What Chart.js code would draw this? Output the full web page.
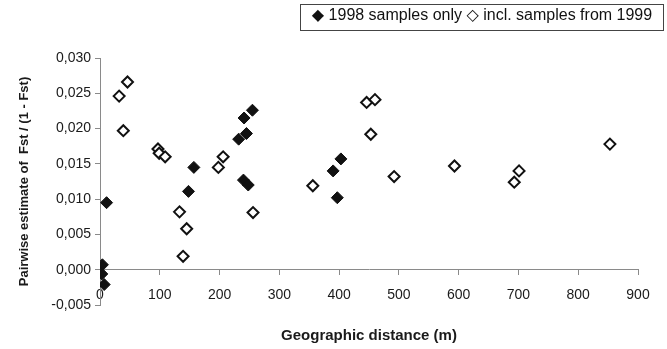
<!DOCTYPE html>
<html>
<head>
<meta charset="utf-8">
<script src="https://cdn.jsdelivr.net/npm/chart.js@4.4.1/dist/chart.umd.min.js"></script>
<style>
  body { margin: 0; background: #fff; }
  #wrap { position: relative; width: 667px; height: 349px; }
  #legend {
    position: absolute; left: 300px; top: 4px; width: 362px; height: 25px;
    border: 1px solid #444; color: #111; line-height: 25px; text-align: center;
    font: 16px "Liberation Sans", Arial, "DejaVu Sans", sans-serif; white-space: nowrap;
  }
</style>
</head>
<body>
<div id="wrap">
  <canvas id="chart" width="667" height="349"></canvas>
  <div id="legend">◆ 1998 samples only ◇ incl. samples from 1999</div>
</div>
<script>
// distances (m) and Fst/(1-Fst) estimates
const dist1998 = [4, 3, 7, 11, 148, 157, 232, 241, 245, 255, 240, 248, 390, 397, 403];
const fst1998  = [0.0007, -0.0006, -0.0021, 0.0095, 0.0111, 0.0145, 0.0185, 0.0215, 0.0193, 0.0226, 0.0127, 0.0120, 0.0140, 0.0102, 0.0157];

const dist1999 = [32, 46, 39, 97, 99, 109, 133, 139, 145, 198, 206, 256, 356, 446, 460, 453, 492, 593, 693, 701, 853];
const fst1999  = [0.0246, 0.0266, 0.0197, 0.0171, 0.0165, 0.0160, 0.0082, 0.0019, 0.0058, 0.0145, 0.0160, 0.0081, 0.0119, 0.0237, 0.0241, 0.0192, 0.0132, 0.0147, 0.0124, 0.0140, 0.0178];

const seriesNames = ['1998 samples only', 'incl. samples from 1999'];
const xTitle = 'Geographic distance (m)';
const yTitle = 'Pairwise estimate of  Fst / (1 - Fst)';
const xMin = 0, xMax = 900, xStep = 100;
const yMin = -0.005, yMax = 0.030, yStep = 0.005;

function toPoints(xs, ys) {
  return xs.map((x, i) => ({ x: x, y: ys[i] }));
}

const axisGrey = '#8a8a8a';
const textColor = '#1a1a1a';
const font = '"Liberation Sans", Arial, sans-serif';

new Chart(document.getElementById('chart'), {
  type: 'scatter',
  data: {
    datasets: [
      {
        label: seriesNames[0],
        data: toPoints(dist1998, fst1998),
        pointStyle: 'rectRot',
        pointRadius: 6,
        backgroundColor: '#111',
        borderColor: '#111',
        borderWidth: 1
      },
      {
        label: seriesNames[1],
        data: toPoints(dist1999, fst1999),
        pointStyle: 'rectRot',
        pointRadius: 5.5,
        backgroundColor: '#fff',
        borderColor: '#111',
        borderWidth: 2
      }
    ]
  },
  options: {
    responsive: false,
    animation: false,
    devicePixelRatio: 1,
    layout: { padding: { top: 58, right: 29, bottom: 44, left: 0 } },
    plugins: {
      legend: { display: false },
      tooltip: { enabled: false }
    },
    scales: {
      // labels sit a bit above the bottom of the plot, like the original
      x: {
        type: 'linear',
        position: { y: yMin },
        min: xMin, max: xMax,
        border: { display: false },
        grid: { display: false, drawTicks: false },
        ticks: {
          stepSize: xStep, autoSkip: false, maxRotation: 0,
          padding: -18, color: textColor, font: { family: font, size: 14 }
        },
        title: {
          display: true, text: xTitle, color: textColor,
          font: { family: font, size: 15, weight: 'bold' },
          padding: { top: 0, bottom: 0 }
        },
        afterFit: s => { s.height = 40; }
      },
      // zero line with its little tick marks
      x2: {
        type: 'linear',
        position: { y: 0 },
        min: xMin, max: xMax,
        border: { display: true, color: axisGrey, width: 1 },
        grid: { drawOnChartArea: false, drawTicks: true, tickLength: 5, color: axisGrey },
        ticks: { stepSize: xStep, display: false }
      },
      y: {
        type: 'linear',
        min: yMin, max: yMax,
        border: { display: true, color: axisGrey, width: 1 },
        grid: { drawOnChartArea: false, drawTicks: true, tickLength: 5, color: axisGrey },
        ticks: {
          stepSize: yStep, padding: 4, color: textColor,
          font: { family: font, size: 14 },
          callback: v => (Math.abs(v) < 1e-9 ? 0 : v).toFixed(3).replace('.', ',')
        },
        title: {
          display: true, text: yTitle, color: textColor,
          font: { family: font, size: 13, weight: 'bold' },
          padding: { top: 17, bottom: 0 }
        },
        afterFit: s => { s.width = 100; }
      }
    }
  }
});
</script>
</body>
</html>
